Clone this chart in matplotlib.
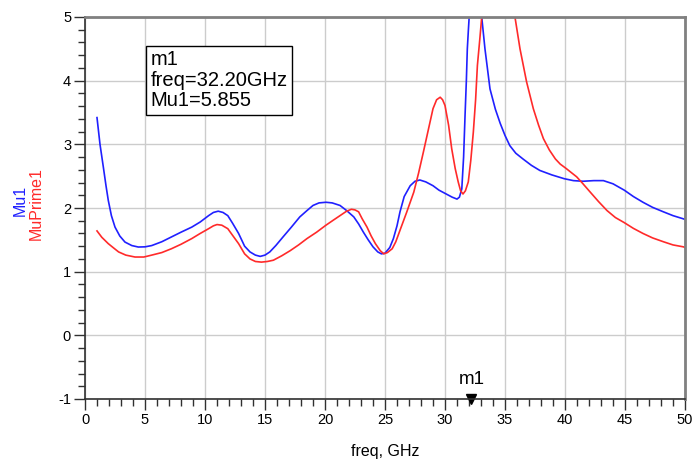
"""Mu1 / MuPrime1 stability factors versus frequency."""

import matplotlib
matplotlib.use("Agg")
import matplotlib.pyplot as plt
from matplotlib.ticker import MultipleLocator

plt.rcParams["font.family"] = ["Liberation Sans", "DejaVu Sans"]
plt.rcParams["axes.unicode_minus"] = False

# Mu1 (blue) samples
mu1_freq = [1.0, 1.25, 1.53, 1.75, 1.94, 2.2, 2.5, 2.9, 3.33, 3.9, 4.44, 5.0, 5.56,
            6.4, 7.2, 8.0, 8.9, 9.6, 10.3, 10.7, 11.1, 11.5, 11.9, 12.3, 12.8, 13.3,
            13.75, 14.2, 14.6, 15.0, 15.4, 15.9, 16.5, 17.2, 17.9, 18.5, 19.0, 19.5,
            20.08, 20.6, 21.25, 21.8, 22.4, 22.8, 23.2, 23.6, 24.0, 24.4, 24.7, 25.0,
            25.4, 25.7, 26.0, 26.25, 26.6, 27.1, 27.5, 27.9, 28.4, 29.0, 29.5, 30.1,
            30.6, 31.0, 31.2, 31.4, 31.55, 31.67, 31.78, 31.86, 31.95, 32.03, 32.2,
            32.5, 32.8, 33.06, 33.33, 33.75, 34.2, 34.6, 35.0, 35.4, 35.9, 36.5, 37.2,
            37.9, 38.9, 39.94, 40.7, 41.5, 42.4, 43.2, 44.0, 44.94, 45.7, 46.5, 47.3,
            48.2, 49.0, 49.86, 50.0]
mu1 = [3.42, 3.00, 2.64, 2.35, 2.12, 1.88, 1.70, 1.56, 1.465, 1.41, 1.387, 1.39, 1.41,
       1.47, 1.545, 1.62, 1.70, 1.78, 1.88, 1.93, 1.95, 1.93, 1.88, 1.76, 1.60, 1.40,
       1.31, 1.26, 1.24, 1.26, 1.31, 1.41, 1.545, 1.70, 1.86, 1.96, 2.04, 2.08, 2.09,
       2.08, 2.04, 1.96, 1.86, 1.75, 1.62, 1.50, 1.39, 1.31, 1.28, 1.29, 1.38, 1.52,
       1.72, 1.94, 2.18, 2.35, 2.42, 2.44, 2.41, 2.35, 2.28, 2.22, 2.17, 2.14, 2.17,
       2.30, 2.80, 3.45, 4.00, 4.50, 4.80, 5.05, 5.855, 6.40, 5.90, 5.00, 4.50, 3.87,
       3.55, 3.33, 3.14, 2.98, 2.86, 2.77, 2.67, 2.59, 2.52, 2.46, 2.43, 2.42, 2.43,
       2.43, 2.38, 2.28, 2.18, 2.09, 2.01, 1.94, 1.88, 1.83, 1.82]

# MuPrime1 (red) samples
muprime_freq = [1.0, 1.4, 1.94, 2.4, 2.8, 3.4, 4.17, 4.9, 5.56, 6.4, 7.2, 8.0, 8.9, 9.6,
                10.3, 10.7, 11.0, 11.4, 11.9, 12.3, 12.8, 13.3, 13.75, 14.2, 14.7, 15.2,
                15.7, 16.4, 17.1, 17.8, 18.5, 19.3, 20.08, 20.7, 21.25, 21.8, 22.2, 22.5,
                22.8, 23.1, 23.5, 23.85, 24.2, 24.6, 24.9, 25.2, 25.6, 25.9, 26.25, 26.8,
                27.4, 27.8, 28.2, 28.6, 29.0, 29.3, 29.6, 29.8, 30.0, 30.3, 30.56, 30.85,
                31.1, 31.3, 31.5, 31.7, 31.94, 32.15, 32.36, 32.55, 32.7, 32.9, 33.06,
                33.3, 34.0, 35.0, 35.5, 35.83, 36.25, 36.8, 37.36, 37.8, 38.2, 38.7, 39.2,
                39.6, 40.1, 40.5, 40.97, 41.5, 42.1, 42.8, 43.5, 44.2, 44.94, 45.7, 46.5,
                47.3, 48.2, 49.0, 49.86, 50.0]
muprime = [1.64, 1.54, 1.44, 1.37, 1.31, 1.26, 1.23, 1.23, 1.26, 1.30, 1.36, 1.43, 1.52,
           1.60, 1.675, 1.72, 1.74, 1.73, 1.675, 1.57, 1.44, 1.28, 1.20, 1.16, 1.15, 1.16,
           1.18, 1.25, 1.33, 1.42, 1.52, 1.62, 1.73, 1.81, 1.88, 1.95, 1.98, 1.97, 1.94,
           1.83, 1.70, 1.56, 1.44, 1.33, 1.28, 1.30, 1.36, 1.47, 1.65, 1.93, 2.25, 2.55,
           2.88, 3.22, 3.56, 3.70, 3.74, 3.70, 3.61, 3.30, 2.93, 2.62, 2.41, 2.27, 2.22,
           2.27, 2.41, 2.75, 3.19, 3.70, 4.24, 4.65, 5.00, 5.80, 7.50, 7.00, 5.80, 5.00,
           4.50, 3.98, 3.56, 3.30, 3.09, 2.91, 2.77, 2.69, 2.62, 2.56, 2.49, 2.38, 2.25,
           2.10, 1.96, 1.85, 1.77, 1.68, 1.60, 1.53, 1.47, 1.42, 1.39, 1.38]

marker_freq = 32.20
marker_text = ["m1", "freq=32.20GHz", "Mu1=5.855"]

fig = plt.figure(figsize=(6.95, 4.62), dpi=100)
ax = fig.add_axes([85 / 695, 1 - 399 / 462, 600 / 695, 382 / 462])

ax.plot(mu1_freq, mu1, color="#2020ff", linewidth=1.2)
ax.plot(muprime_freq, muprime, color="#ff2a2a", linewidth=1.2)

ax.set_xlim(0, 50)
ax.set_ylim(-1, 5)
ax.xaxis.set_major_locator(MultipleLocator(5))
ax.xaxis.set_minor_locator(MultipleLocator(1))
ax.yaxis.set_major_locator(MultipleLocator(1))
ax.yaxis.set_minor_locator(MultipleLocator(0.2))
ax.tick_params(which="major", direction="out", length=8, width=1, labelsize=10.5,
               color="#303030", pad=2)
ax.tick_params(which="minor", direction="out", length=5, width=1, color="#303030")
ax.grid(True, which="major", color="#cccccc", linewidth=1)
ax.set_axisbelow(True)

for side in ("left", "bottom"):
    ax.spines[side].set_color("#303030")
    ax.spines[side].set_linewidth(1.2)
for side in ("top", "right"):
    ax.spines[side].set_color("#808080")
    ax.spines[side].set_linewidth(2)

ax.set_xlabel("freq, GHz", fontsize=11.5, labelpad=12)

fig.text(20 / 695, 1 - 200 / 462, "Mu1", color="#2020ff", fontsize=11.5,
         rotation=90, ha="center", va="center")
fig.text(36 / 695, 1 - 204 / 462, "MuPrime1", color="#ff2a2a", fontsize=11.5,
         rotation=90, ha="center", va="center")

# marker readout box
ax.text(5.45, 4.48, "\n".join(marker_text), fontsize=14.5, va="top", ha="left",
        linespacing=1.1,
        bbox=dict(boxstyle="square,pad=0.22", facecolor="white", edgecolor="black",
                  linewidth=1))

# marker on the x axis
ax.plot([marker_freq], [-1], marker="v", color="black", markersize=7,
        clip_on=False)
ax.annotate("m1", (marker_freq, -1), xytext=(0, 8), textcoords="offset points",
            ha="center", va="bottom", fontsize=13.5)

fig.savefig("out.png", dpi=100)
